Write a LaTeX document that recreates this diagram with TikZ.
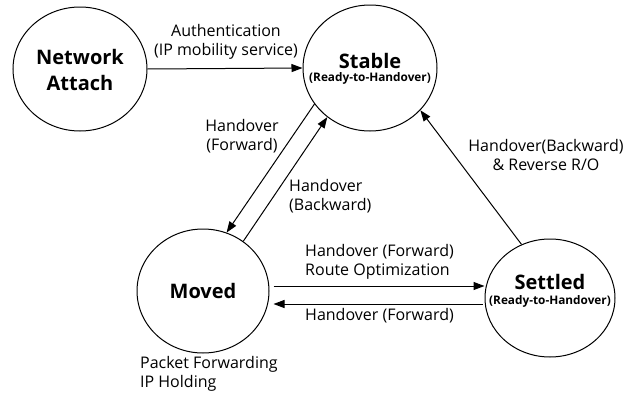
\documentclass[tikz,border=0pt]{standalone}
\usepackage{fontspec}
\setmainfont{Open Sans}
\usetikzlibrary{shapes.geometric,arrows.meta}
\begin{document}
\begin{tikzpicture}[x=1pt,y=-1pt,
  state/.style={draw,line width=1pt,ellipse,inner sep=0pt},
  big/.style={font=\fontsize{20}{26}\selectfont\bfseries,align=center},
  small/.style={font=\fontsize{11.8}{13}\selectfont\bfseries},
  lbl/.style={font=\fontsize{16}{19}\selectfont,inner sep=0pt},
  arr/.style={line width=1pt,-{Triangle[length=11pt,width=8pt]}}]
\useasboundingbox (0,0) rectangle (635,394);
\node[state,minimum width=134pt,minimum height=124pt] (na) at (80,69) {};
\node[big] (natxt) at (80,70) {Network\\Attach};
\node[state,minimum width=134pt,minimum height=126pt] (st) at (370,68) {};
\node[big,anchor=base] (sttxt) at (370,68) {Stable};
\node[small,anchor=base] (stsub) at (370,81) {(Ready-to-Handover)};
\node[state,minimum width=132pt,minimum height=124pt] (mv) at (203,291) {};
\node[big] (mvtxt) at (203,291) {Moved};
\node[state,minimum width=130pt,minimum height=118pt] (se) at (550,298) {};
\node[big,anchor=base] (setxt) at (550,289) {Settled};
\node[small,anchor=base] (sesub) at (550,304) {(Ready-to-Handover)};

\draw[arr] (na.east) -- (st.west);
\draw[arr] (st.213) -- (mv.68);
\draw[arr] (mv.51) -- (st.229);
\draw[arr] (se.118) -- (st.320);
\draw[arr] ([yshift=5pt]mv.east) ++(4,0) coordinate (m1) -- (m1 -| se.west);
\draw[arr] ([yshift=-6pt]se.west) ++(-2,0) coordinate (s1) -- ([xshift=4pt]s1 -| mv.east);

\node[lbl,align=center] (l1) at (226,42) {Authentication\\(IP mobility service)};
\node[lbl,align=center] (l2) at (242,136) {Handover\\(Forward)};
\node[lbl,align=left,anchor=west] (l3) at (289,196) {Handover\\(Backward)};
\node[lbl,align=center] (l4) at (546,155) {Handover(Backward)\\\& Reverse R/O};
\node[lbl,align=left,anchor=west] (l5) at (305,262) {Handover (Forward)\\Route Optimization};
\node[lbl,anchor=west] (l6) at (305,316) {Handover (Forward)};
\node[lbl,align=left,anchor=west] (l7) at (140,374) {Packet Forwarding\\IP Holding};
\end{tikzpicture}
\end{document}
